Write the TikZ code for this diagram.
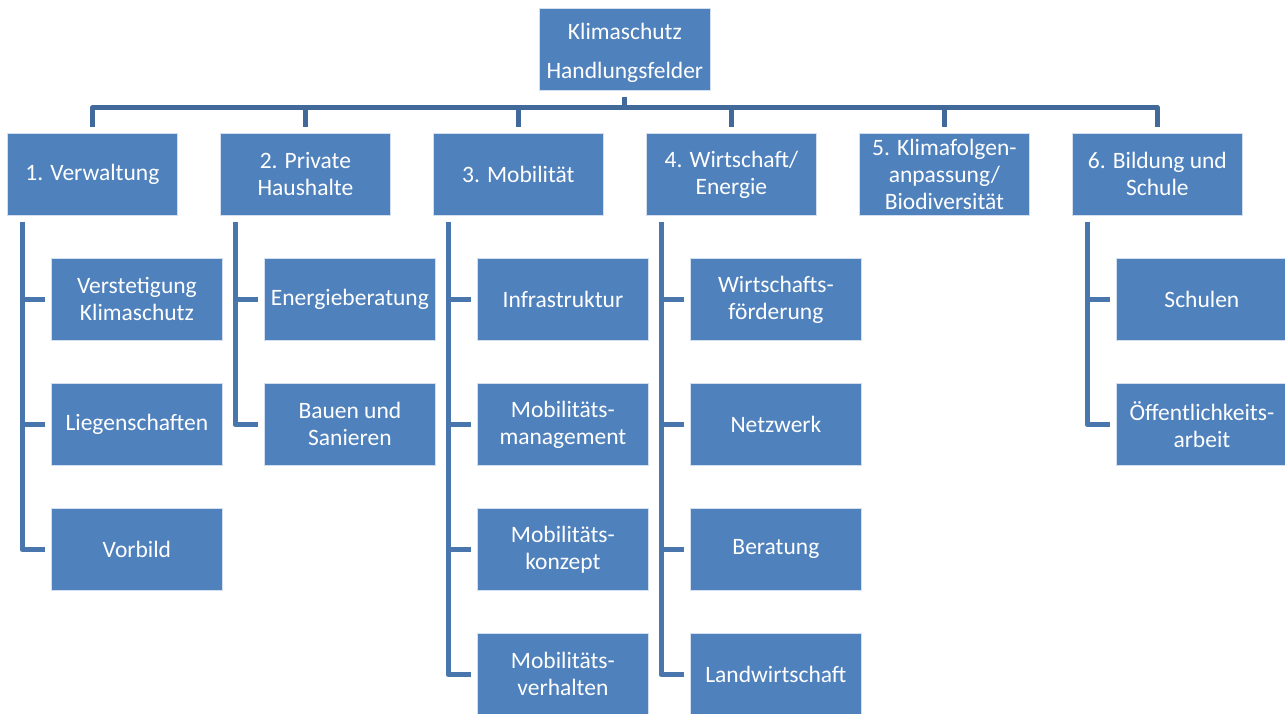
\documentclass[tikz,border=0pt]{standalone}
\usepackage{fontspec}
\setmainfont{Carlito}
\definecolor{boxblue}{HTML}{4F81BD}
\definecolor{busline}{HTML}{41699A}
\definecolor{subline}{HTML}{4A76AE}
\begin{document}
\begin{tikzpicture}[x=1pt,y=-1pt,
  box/.style={draw=white!75!boxblue,line width=0.8pt,fill=boxblue,text=white,
    minimum width=170pt,minimum height=82pt,inner sep=0pt,anchor=north west,
    align=center,font=\fontsize{23.5}{27}\selectfont},
  sub/.style={box,minimum width=171pt},
  conn/.style={line width=5pt,line join=round},
  busconn/.style={conn,draw=busline},
  subconn/.style={conn,draw=subline}]
\useasboundingbox (0,0) rectangle (1285,714);

% top node (the strut lowers the two lines slightly)
\node[box,minimum width=171pt] (root) at (539,8)
  {\rule{0pt}{24pt}Klimaschutz\\[12pt]Handlungsfelder};

% six fields of action
\node[box] (f1) at (7,133) {1. Verwaltung};
\node[box] (f2) at (220,133) {2. Private\\Haushalte};
\node[box] (f3) at (433,133) {3. Mobilität};
\node[box] (f4) at (646,133) {4. Wirtschaft/\\Energie};
\node[box] (f5) at (859,133) {5. Klimafolgen-\\anpassung/\\Biodiversität};
\node[box] (f6) at (1072,133) {6. Bildung und\\Schule};

% measures under each field
\node[sub] (a1) at (51,258) {Verstetigung\\Klimaschutz};
\node[sub] (a2) at (51,383) {Liegenschaften};
\node[sub] (a3) at (51,508) {Vorbild};

\node[sub] (b1) at (264,258) {Energieberatung};
\node[sub] (b2) at (264,383) {Bauen und\\Sanieren};

\node[sub] (c1) at (477,258) {Infrastruktur};
\node[sub] (c2) at (477,383) {Mobilitäts-\\management};
\node[sub] (c3) at (477,508) {Mobilitäts-\\konzept};
\node[sub] (c4) at (477,633) {Mobilitäts-\\verhalten};

\node[sub] (d1) at (690,258) {Wirtschafts-\\förderung};
\node[sub] (d2) at (690,383) {Netzwerk};
\node[sub] (d3) at (690,508) {Beratung};
\node[sub] (d4) at (690,633) {Landwirtschaft};

\node[sub] (e1) at (1116,258) {Schulen};
\node[sub] (e2) at (1116,383) {Öffentlichkeits-\\arbeit};

% bus from the top node to the fields
\foreach \f in {f1,f2,f3,f4,f5,f6}
  \draw[busconn] ([yshift=-6pt]root.south) -- ++(0,11) -| ([yshift=6pt]\f.north);

% field-to-measure connectors
\foreach \f/\m in {f1/a1,f1/a2,f1/a3,f2/b1,f2/b2,f3/c1,f3/c2,f3/c3,f3/c4,
                   f4/d1,f4/d2,f4/d3,f4/d4,f6/e1,f6/e2}
  \draw[subconn] ([xshift=15pt,yshift=-6pt]\f.south west) |- ([xshift=-6pt]\m.west);
\end{tikzpicture}
\end{document}
